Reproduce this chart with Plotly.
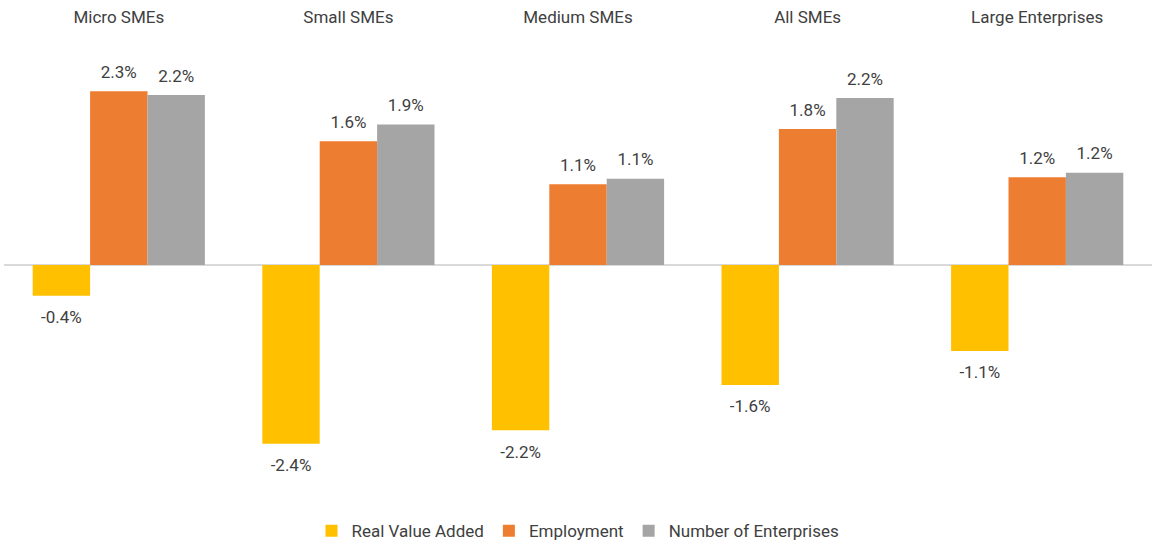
import plotly.graph_objects as go

categories = ["Micro SMEs", "Small SMEs", "Medium SMEs", "All SMEs", "Large Enterprises"]
real_value_added = [-0.41, -2.37, -2.19, -1.59, -1.14]
employment = [2.30, 1.64, 1.07, 1.80, 1.16]
number_of_enterprises = [2.25, 1.86, 1.14, 2.21, 1.22]
rva_labels = ["-0.4%", "-2.4%", "-2.2%", "-1.6%", "-1.1%"]
emp_labels = ["2.3%", "1.6%", "1.1%", "1.8%", "1.2%"]
noe_labels = ["2.2%", "1.9%", "1.1%", "2.2%", "1.2%"]

FONT = "Roboto, Arial, sans-serif"
TXT = "#404040"

series = [
    ("Real Value Added", real_value_added, rva_labels, "#FFC000", "bottom center", 22),
    ("Employment", employment, emp_labels, "#ED7D31", "top center", 13),
    ("Number of Enterprises", number_of_enterprises, noe_labels, "#A5A5A5", "top center", 13),
]

fig = go.Figure()
for name, vals, labels, color, pos, msize in series:
    fig.add_trace(go.Bar(
        x=categories, y=vals, name=name, marker_color=color, marker_line_width=0,
    ))
for name, vals, labels, color, pos, msize in series:
    fig.add_trace(go.Scatter(
        x=categories, y=vals, mode="markers+text", text=labels, textposition=pos,
        marker=dict(size=msize, color="rgba(0,0,0,0)"), cliponaxis=False,
        textfont=dict(size=17, color=TXT, family=FONT), showlegend=False, hoverinfo="skip",
    ))

fig.update_layout(
    width=1155, height=543,
    barmode="group", bargap=0.25, bargroupgap=0,
    scattermode="group", scattergap=0.25,
    plot_bgcolor="white", paper_bgcolor="white",
    margin=dict(l=4, r=3, t=40, b=60, autoexpand=False),
    font=dict(family=FONT, color=TXT, size=17),
    showlegend=True,
    legend=dict(orientation="h", x=0.5, xanchor="center", y=-0.068, yanchor="top",
                font=dict(size=17, color=TXT), itemwidth=30, traceorder="normal"),
    xaxis=dict(side="top", showline=False, ticks="", showgrid=False,
               tickfont=dict(size=17, color=TXT), ticklabelstandoff=13),
    yaxis=dict(range=[-2.89, 2.98], showticklabels=False, showgrid=False,
               zeroline=True, zerolinecolor="#D9D9D9", zerolinewidth=1.5),
)

fig.write_html("out.html", config={"displayModeBar": False},
               post_script="document.body.style.margin='0px';")
